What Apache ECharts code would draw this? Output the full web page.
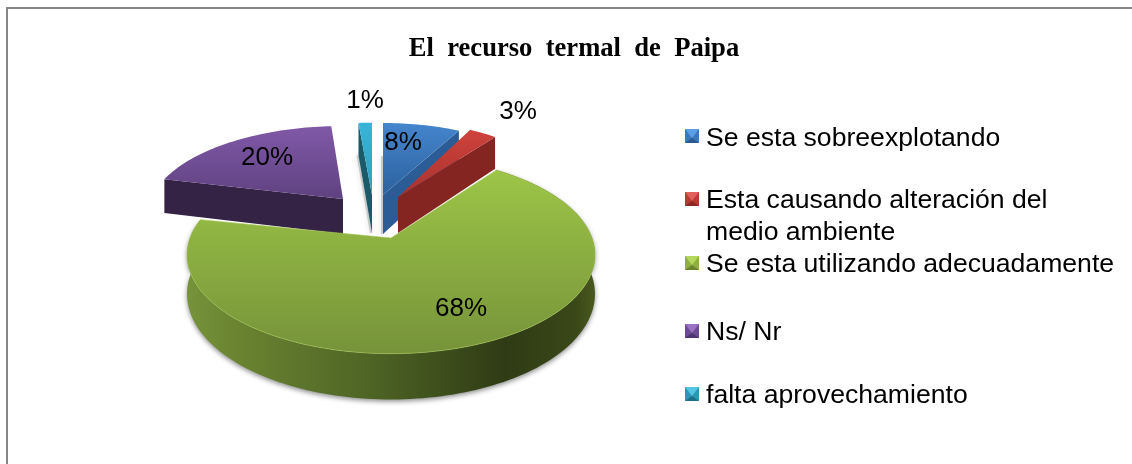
<!DOCTYPE html>
<html><head><meta charset="utf-8">
<style>html,body{margin:0;padding:0;background:#fff}#c{width:1132px;height:464px}</style>
<script src="https://cdn.jsdelivr.net/npm/echarts@6/dist/echarts.min.js"></script>
</head><body><div id="c"></div>
<script>
const categories = ['Se esta sobreexplotando','Esta causando alteración del medio ambiente','Se esta utilizando adecuadamente','Ns/ Nr','falta aprovechamiento'];
const values = [8,3,68,20,1];
const legendWrapped = {1:'Esta causando alteración del\nmedio ambiente'};
const title = 'El  recurso  termal  de  Paipa';

// Projective view of the pie disc: circle -> perspective ellipse
const P = 0.17, A = 201, B = 96;
// per-slice placement: exploded apex, slice scale, rotation, depth, label, colours
const layout = [
 {ax:383,ay:195,s:.90,sy:.878,rot:0,d:39,lx:403,ly:143,top:['#4585cc','#2c629f'],side:'#2b5c95'},
 {ax:398,ay:197,s:.857,sy:.917,rot:0,d:36,lx:518,ly:112,top:['#cf423c','#a8322d'],side:'#852522'},
 {ax:391,ay:238,s:1,sy:1,rot:-3,d:38,lx:461,ly:309,top:['#9dc547','#76933a'],side:'#556b26'},
 {ax:343,ay:199,s:.953,sy:.89,rot:-0.5,d:35,lx:267,ly:158,top:['#8058a8','#5f4280'],side:'#342344'},
 {ax:372,ay:195,s:1.25,sy:.88,rot:0,d:38,lx:365,ly:101,top:['#37b5d8','#2f9fbd'],side:'#1b5a68'}
];
const drawOrder = [3,4,0,2,1];
const legendY = [139,217,265,333,396];
const swatchY = [136,199,263,331,394];
const swatchCols = [['#5b9fe6','#3a77bd','#2a5a90'],['#e2605a','#b73a35','#8a2825'],['#b5d75e','#8fb040','#6a8430'],['#9a73c2','#6d4c94','#4e3670'],['#55c6e2','#2b97b5','#1d6f86']];

let acc = 0;
const spans = values.map(v => { const s=[acc, acc+v]; acc+=v; return s; });
const total = acc;

function proj(L, deg, down){
  const t = (deg+L.rot)*Math.PI/180, u=Math.sin(t), v=Math.cos(t), w=1+P*v;
  return [L.ax + L.s*A*u/w, L.ay - L.sy*B*v/w + (down?L.d/w:0)];
}
function rim(L,a,b,down){
  const n=Math.max(2,Math.ceil(Math.abs(b-a)/1.5)), pts=[];
  for(let i=0;i<=n;i++) pts.push(proj(L,a+(b-a)*i/n,down));
  return pts;
}
function vgrad(c){return {type:'linear',x:0,y:0,x2:0,y2:1,colorStops:[{offset:0,color:c[0]},{offset:1,color:c[1]}]};}
function poly(points,style,extra){return Object.assign({type:'polygon',shape:{points},style},extra||{});}

function renderSlice(params, api){
  const i = api.value(0), L = layout[i];
  const a = api.value(1)/total*360, b = api.value(2)/total*360;
  const kids = [];
  const apexT=[L.ax,L.ay], apexB=[L.ax,L.ay+L.d];
  const cut = (deg,fill)=>{
    const t=proj(L,deg,false), d=proj(L,deg,true);
    kids.push(poly([apexT,t,d,apexB],{fill}));
  };
  if(i===0||i===4){
    // soft shadow of the far cut on the white gap
    const far=proj(L,a,true);
    kids.push({type:'polyline',shape:{points:[[far[0]-1,far[1]],[apexB[0]-1,apexB[1]]]},
      style:{stroke:'rgba(150,150,150,.45)',lineWidth:2,shadowBlur:5,shadowColor:'rgba(100,100,100,.6)',fill:'none'}});
  }
  if(i===2){
    const top=rim(L,a,b,false), bot=rim(L,a,b,true).reverse();
    kids.push(poly(top.concat(bot),{
      fill:{type:'linear',x:0,y:0,x2:1,y2:0,colorStops:[
        {offset:0,color:'#76933a'},{offset:.12,color:'#6a8431'},{offset:.45,color:'#4e6425'},
        {offset:.78,color:'#2f3b14'},{offset:.95,color:'#3a4718'},{offset:1,color:'#48591f'}]},
      shadowBlur:5,shadowColor:'rgba(0,0,0,.45)',shadowOffsetY:2}));
  } else if(i===0||i===1){
    cut(b,L.side);
  } else {
    cut(a,L.side);
  }
  const pts=[apexT].concat(rim(L,a,b,false));
  kids.push(poly(pts,{fill:vgrad(L.top),stroke:i===2?'#a3c552':'none',lineWidth:i===2?.6:0}));
  kids.push({type:'text',z2:50,style:{text:values[i]+'%',x:L.lx,y:L.ly,align:'center',verticalAlign:'middle',
    font:'26px "Liberation Sans", Arial, sans-serif',fill:'#000'}});
  return {type:'group',children:kids};
}

const series = drawOrder.map(i => ({
  type:'custom', name:categories[i], coordinateSystem:'none', silent:true, animation:false, clip:false,
  encode:{}, renderItem:renderSlice,
  data:[[i,spans[i][0],spans[i][1]]]
}));

const legends = categories.map((c,i)=>({
  data:[{name:c,icon:'rect',itemStyle:{color:'transparent',borderWidth:0}}],
  left:682, top:legendY[i]-(i===1?32:16), orient:'vertical', padding:0,
  itemWidth:19, itemHeight:15, itemGap:0, selectedMode:false,
  formatter:n=>legendWrapped[i]||n,
  textStyle:{color:'#000',fontFamily:'"Liberation Sans", Arial, sans-serif',fontSize:26.6,lineHeight:32,padding:[0,0,0,0]}
}));

const swatchEls=[];
categories.forEach((c,i)=>{
  const x=685,y=swatchY[i]-7,s=14,cx=x+s/2,cy=y+s/2,cc=swatchCols[i];
  const p=(pts,fill)=>swatchEls.push({type:'polygon',z:10,silent:true,shape:{points:pts},style:{fill}});
  p([[x,y],[x+s,y],[x+s,y+s],[x,y+s]],cc[1]);
  p([[x,y],[x+s,y],[cx,cy+2]],cc[0]);
  p([[x,y+s],[x+s,y+s],[cx,cy+2]],cc[2]);
});
const frame=[
 {type:'rect',silent:true,shape:{x:6,y:7,width:2,height:457},style:{fill:'#868686'}},
 {type:'rect',silent:true,shape:{x:6,y:7,width:1126,height:2},style:{fill:'#868686'}}
];

const chart = echarts.init(document.getElementById('c'),null,{renderer:'canvas'});
chart.setOption({
  animation:false, backgroundColor:'#fff',
  title:{text:title,left:569,top:44,textAlign:'center',textVerticalAlign:'middle',
    textStyle:{fontFamily:'"Liberation Serif", "Times New Roman", serif',fontWeight:'bold',fontSize:26.6,color:'#000'}},
  legend:legends,
  graphic:{elements:frame.concat(swatchEls)},
  series
});
</script></body></html>
